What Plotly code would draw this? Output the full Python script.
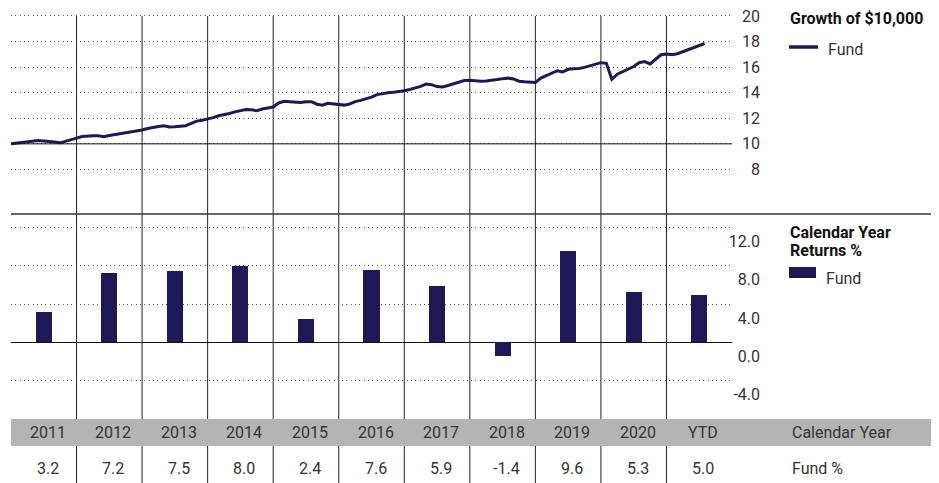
import plotly.graph_objects as go

# ---------------- data ----------------
growth_start_year = 2011
growth_values = [
    10.0, 10.05, 10.12, 10.15, 10.2, 10.26, 10.22, 10.2, 10.15, 10.08,
    10.22, 10.3, 10.45, 10.57, 10.62, 10.64, 10.63, 10.55, 10.65, 10.72,
    10.8, 10.87, 10.93, 10.98, 11.08, 11.2, 11.3, 11.35, 11.42, 11.32,
    11.33, 11.4, 11.42, 11.6, 11.78, 11.85, 11.93, 12.05, 12.2, 12.28,
    12.38, 12.5, 12.6, 12.68, 12.66, 12.6, 12.72, 12.8, 12.88, 13.2,
    13.33, 13.3, 13.28, 13.23, 13.3, 13.3, 13.1, 13.02, 13.17, 13.12,
    13.08, 13.03, 13.12, 13.3, 13.4, 13.5, 13.65, 13.85, 13.95, 14.0,
    14.03, 14.07, 14.15, 14.25, 14.37, 14.5, 14.68, 14.63, 14.48, 14.45,
    14.56, 14.7, 14.87, 14.95, 14.97, 14.93, 14.9, 14.92, 14.95, 15.03,
    15.1, 15.14, 15.08, 14.9, 14.85, 14.85, 14.8, 15.15, 15.35, 15.5,
    15.72, 15.63, 15.83, 15.88, 15.9, 15.98, 16.1, 16.2, 16.35, 16.3,
    15.05, 15.45, 15.65, 15.88, 16.05, 16.35, 16.43, 16.25, 16.6, 16.97,
    17.03, 16.98, 17.05, 17.2, 17.35, 17.53, 17.7, 17.85,
]
growth_x = [growth_start_year + i / 12 for i in range(len(growth_values))]

categories = ["2011", "2012", "2013", "2014", "2015", "2016", "2017",
              "2018", "2019", "2020", "YTD"]
fund_returns = [3.2, 7.2, 7.5, 8.0, 2.4, 7.6, 5.9, -1.4, 9.6, 5.3, 5.0]
cat_x = [growth_start_year + i + 0.5 for i in range(len(categories))]

growth_ticks = [8, 10, 12, 14, 16, 18, 20]
returns_ticks = [-4.0, 0.0, 4.0, 8.0, 12.0]

# ---------------- style ----------------
OFF = 8                      # page body margin around the plot div
W, H = 939 - OFF, 483 - OFF
NAVY = "#1f1856"
TXT = "#333333"
FONT = "Roboto, Liberation Sans, sans-serif"
FS = 16


def px(x):
    return (x - OFF) / W


def py(y):
    return 1 - (y - OFF) / H


fig = go.Figure()

fig.add_trace(go.Scatter(
    x=growth_x, y=growth_values, mode="lines",
    line=dict(color=NAVY, width=3), name="Fund",
    xaxis="x", yaxis="y", showlegend=False, hoverinfo="skip"))

fig.add_trace(go.Bar(
    x=cat_x, y=fund_returns, width=0.245, marker=dict(color=NAVY, line=dict(width=0)),
    name="Fund", xaxis="x2", yaxis="y2", showlegend=False, hoverinfo="skip"))

xdom = [px(11), px(732)]
xrng = [2011, 2022]
grid_dash = "1px,3.3px"

# growth panel: 12.79 px per unit, value 20 at y=16, 6 at y=195
top_pad = 0.4
fig.update_layout(
    width=W, height=H,
    margin=dict(l=0, r=0, t=0, b=0, pad=0, autoexpand=False),
    paper_bgcolor="white", plot_bgcolor="white",
    font=dict(family=FONT, size=FS, color=TXT),
    xaxis=dict(domain=xdom, range=xrng, showgrid=False, zeroline=False,
               showticklabels=False, showline=False, anchor="y", automargin=False),
    xaxis2=dict(domain=xdom, range=xrng, showgrid=False, zeroline=False,
                showticklabels=False, showline=False, anchor="y2", automargin=False),
    yaxis=dict(domain=[py(195), py(16 - top_pad * 12.79)], range=[6, 20 + top_pad],
               anchor="free", position=px(760), side="left", tickvals=growth_ticks,
               ticktext=[str(v) for v in growth_ticks], automargin=False,
               ticklabeloverflow="allow",
               showgrid=True, gridcolor="#555", gridwidth=1, griddash=grid_dash,
               zeroline=False, showline=False, ticks="",
               tickfont=dict(family=FONT, size=FS, color=TXT)),
    yaxis2=dict(domain=[py(410), py(214)], range=[-7.05, 13.41], anchor="free",
                position=px(760), side="left", tickvals=returns_ticks,
                ticktext=[f"{v:.1f}" for v in returns_ticks], automargin=False,
                ticklabeloverflow="allow",
                showgrid=True, gridcolor="#555", gridwidth=1, griddash=grid_dash,
                zeroline=True, zerolinecolor="#111", zerolinewidth=1,
                showline=False, ticks="", ticklabelshift=14,
                tickfont=dict(family=FONT, size=FS, color=TXT)),
    bargap=0,
)

shapes = []
# year separators
for yr in range(2012, 2022):
    shapes.append(dict(type="line", xref="x", yref="paper", x0=yr, x1=yr,
                       y0=0, y1=py(16), line=dict(color="#222", width=1),
                       layer="below"))
# base line at 10 in growth panel
shapes.append(dict(type="line", xref="x", yref="y", x0=2011, x1=2022, y0=10, y1=10,
                   line=dict(color="#111", width=1)))
# separator between panels
shapes.append(dict(type="line", xref="paper", yref="paper", x0=px(11), x1=1,
                   y0=py(214), y1=py(214), line=dict(color="#333", width=1.5)))
# table header band
shapes.append(dict(type="rect", xref="paper", yref="paper", x0=px(11), x1=1,
                   y0=py(446), y1=py(419), fillcolor="#b4b4b4",
                   line=dict(width=0), layer="below"))
# legend symbols
shapes.append(dict(type="line", xref="paper", yref="paper", x0=px(789), x1=px(818),
                   y0=py(47), y1=py(47), line=dict(color=NAVY, width=3.5)))
shapes.append(dict(type="rect", xref="paper", yref="paper", x0=px(789), x1=px(816),
                   y0=py(278), y1=py(267), fillcolor=NAVY, line=dict(width=0)))
fig.update_layout(shapes=shapes)

ann = []


def label(text, x, y, bold=False, xanchor="left", yanchor="middle", size=FS,
          color=TXT, xref="paper", xshift=0):
    ann.append(dict(text=f"<b>{text}</b>" if bold else text,
                    x=x, y=py(y), xref=xref, yref="paper",
                    xanchor=xanchor, yanchor=yanchor, showarrow=False,
                    xshift=xshift,
                    font=dict(family=FONT, size=size, color=color)))


label("Growth of $10,000", px(788), 7, bold=True, yanchor="top", color="#111")
label("Fund", px(826), 49)
label("Calendar Year", px(788), 233, bold=True, color="#111")
label("Returns %", px(788), 251, bold=True, color="#111")
label("Fund", px(824), 278)

for cx, cat, val in zip(cat_x, categories, fund_returns):
    label(cat, cx, 432, xanchor="center", xref="x", xshift=4)
    label(f"{val:.1f}", cx, 468, xanchor="center", xref="x", xshift=4)
label("Calendar Year", px(790), 432)
label("Fund %", px(790), 468)

fig.update_layout(annotations=ann)

fig.write_html("out.html")
